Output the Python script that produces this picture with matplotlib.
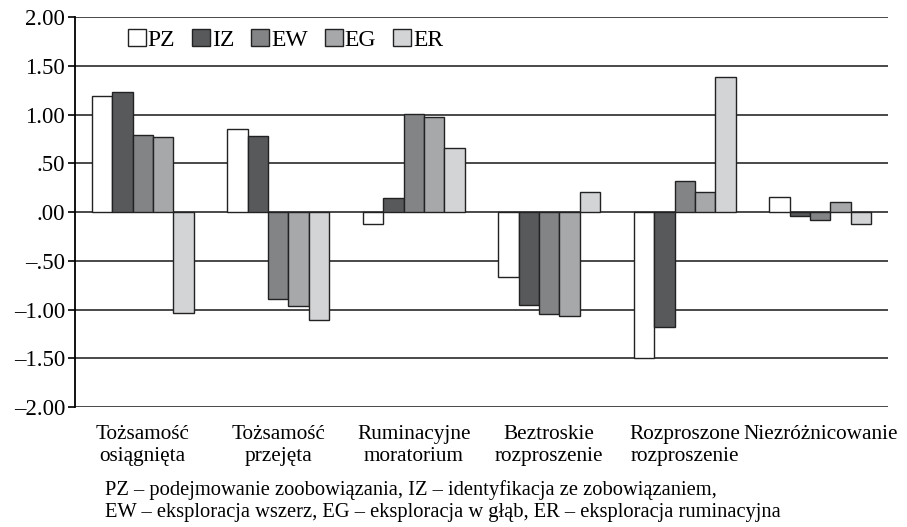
import numpy as np
import matplotlib
matplotlib.use("Agg")
import matplotlib.pyplot as plt

# -------------------------------------------------------------
# Data
# -------------------------------------------------------------
categories = [
    "Tożsamość\nosiągnięta",
    "Tożsamość\nprzejęta",
    "Ruminacyjne\nmoratorium",
    "Beztroskie\nrozproszenie",
    "Rozproszone\nrozproszenie",
    "Niezróżnicowanie\n",
]
series_names = ["PZ", "IZ", "EW", "EG", "ER"]

pz = [1.19, 0.85, -0.12, -0.67, -1.50, 0.15]
iz = [1.23, 0.78, 0.14, -0.95, -1.18, -0.04]
ew = [0.79, -0.89, 1.01, -1.05, 0.32, -0.08]
eg = [0.77, -0.96, 0.97, -1.07, 0.21, 0.10]
er = [-1.04, -1.11, 0.66, 0.21, 1.38, -0.12]

yticks = [2.0, 1.5, 1.0, 0.5, 0.0, -0.5, -1.0, -1.5, -2.0]
ytick_labels = ["2.00", "1.50", "1.00", ".50", ".00",
                "\u2013.50", "\u20131.00", "\u20131.50", "\u20132.00"]

footnote = ("PZ \u2013 podejmowanie zoobowiązania, IZ \u2013 identyfikacja ze zobowiązaniem,\n"
            "EW \u2013 eksploracja wszerz, EG \u2013 eksploracja w głąb, ER \u2013 eksploracja ruminacyjna")

colors = ["#ffffff", "#58595b", "#838486", "#a7a8aa", "#d3d4d6"]

# -------------------------------------------------------------
# Plot
# -------------------------------------------------------------
plt.rcParams["font.family"] = ["Liberation Serif", "DejaVu Serif"]

fig = plt.figure(figsize=(9.07, 5.27), dpi=100)
ax = fig.add_axes([75 / 907, 1 - 407 / 527, 813 / 907, 390 / 527])

x = np.arange(len(categories))
width = 0.151
all_series = [pz, iz, ew, eg, er]

for i, (vals, name, col) in enumerate(zip(all_series, series_names, colors)):
    offset = (i - 2) * width
    ax.bar(x + offset, vals, width, color=col, edgecolor="#222222",
           linewidth=1.0, label=name, zorder=3)

for yv in yticks:
    ax.axhline(yv, color="#3a3a3a", linewidth=1.3, zorder=1)

ax.set_xlim(-0.5, 5.5)
ax.set_ylim(-2.0, 2.0)
ax.set_yticks(yticks)
ax.set_yticklabels(ytick_labels, fontsize=16.5)
ax.set_xticks(x)
ax.set_xticklabels(categories, fontsize=15.3, linespacing=1.2)
ax.tick_params(axis="x", length=0, pad=13)
ax.tick_params(axis="y", length=5, width=1.2, direction="out", pad=2)

for s in ["top", "right", "bottom"]:
    ax.spines[s].set_visible(False)
ax.spines["left"].set_linewidth(1.3)

ax.legend(loc="center left", bbox_to_anchor=(0.065, 0.941), ncol=5,
          frameon=False, fontsize=17, handlelength=0.76, handleheight=0.68,
          handletextpad=0.08, columnspacing=0.72, borderaxespad=0,
          borderpad=0)

fig.text(105 / 907, 1 - 501 / 527, footnote, fontsize=14.8, va="center",
         ha="left", linespacing=1.15)

plt.savefig("out.png", dpi=100)
plt.close()
